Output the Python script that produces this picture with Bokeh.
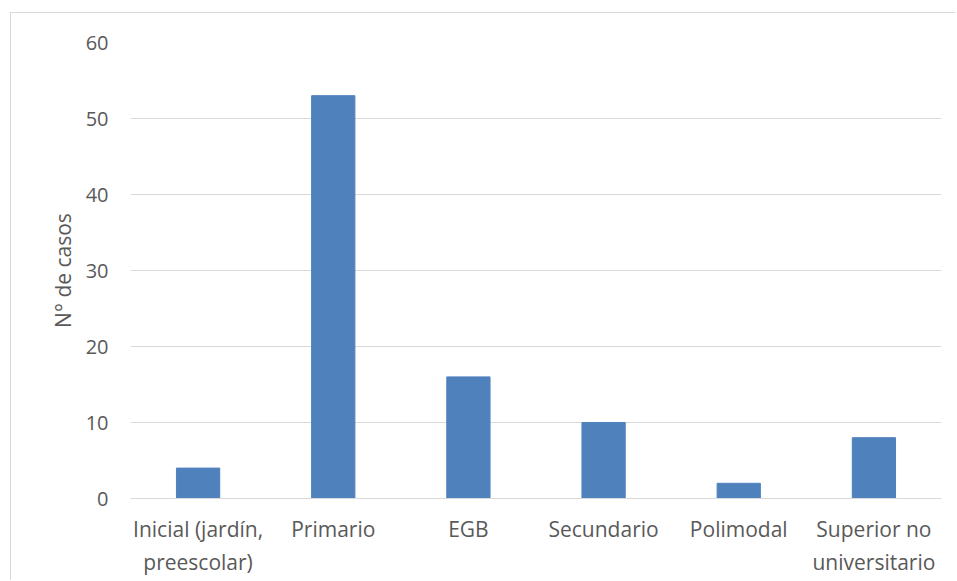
from bokeh.plotting import figure
from bokeh.models import Range1d
from bokeh.embed import file_html
from bokeh.resources import INLINE

categories = ["Inicial (jardín,\npreescolar)", "Primario", "EGB", "Secundario", "Polimodal", "Superior no\nuniversitario"]
values = [4, 53, 16, 10, 2, 8]
y_ticks = [0, 10, 20, 30, 40, 50, 60]

FONT = "Open Sans"
GREY = "#595959"

p = figure(x_range=categories, y_range=Range1d(0, 60), width=945, height=568,
           output_backend="svg", toolbar_location=None,
           min_border_left=119, min_border_right=15, min_border_top=29, min_border_bottom=83)
p.margin = (12, 0, 0, 10)
p.styles = {"border-top": "1px solid #d9d9d9", "border-left": "1px solid #d9d9d9"}

p.vbar(x=categories, top=values, width=0.32, color="#4f81bd")

p.outline_line_color = None
p.xgrid.grid_line_color = None
p.ygrid.grid_line_color = "#d9d9d9"
p.ygrid.grid_line_width = 1
p.yaxis.ticker = y_ticks
p.yaxis.axis_line_color = None
p.yaxis.major_tick_line_color = None
p.yaxis.minor_tick_line_color = None
p.yaxis.major_label_text_font = FONT
p.yaxis.major_label_text_font_size = "20px"
p.yaxis.major_label_text_color = GREY
p.yaxis.major_label_standoff = 16
p.yaxis.axis_label = "N° de casos"
p.yaxis.axis_label_text_font = FONT
p.yaxis.axis_label_text_font_size = "21px"
p.yaxis.axis_label_text_font_style = "normal"
p.yaxis.axis_label_text_color = GREY
p.yaxis.axis_label_standoff = 6

p.xaxis.axis_line_color = "#d9d9d9"
p.xaxis.major_tick_line_color = None
p.xaxis.minor_tick_line_color = None
p.xaxis.major_label_text_font = FONT
p.xaxis.major_label_text_font_size = "21px"
p.xaxis.major_label_text_color = GREY
p.xaxis.major_label_standoff = 10
p.x_range.range_padding = 0

open("out.html", "w").write(file_html(p, INLINE))
